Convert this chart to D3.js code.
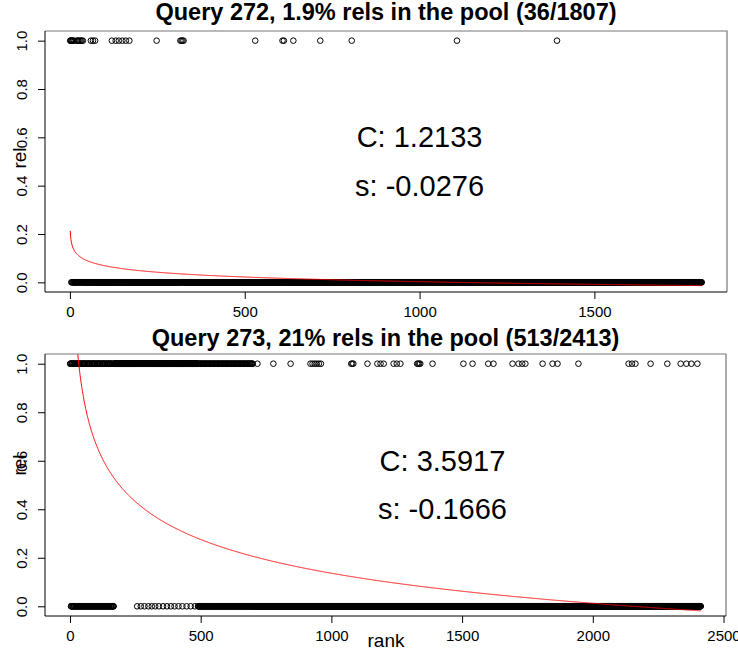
<!DOCTYPE html>
<meta charset="utf-8">
<style>
body { margin: 0; background: #fff; }
svg { font-family: "Liberation Sans", Arial, Helvetica, sans-serif; }
.tick line { stroke: #000; }
.tick text { font-size: 15px; fill: #000; }
</style>
<body>
<svg width="738" height="653"></svg>
<script src="https://cdnjs.cloudflare.com/ajax/libs/d3/7.8.5/d3.min.js"></script>
<script>
// one entry per query / panel
var queries = [272, 273];
var poolSizes = [1807, 2413];
var relPercent = ["1.9%", "21%"];
var fitC = [1.2133, 3.5917];
var fitS = [-0.0276, -0.1666];
var labelRank = [1000, 1425];   // where the C / s text sits along the rank axis

var xTicks = [[0, 500, 1000, 1500], [0, 500, 1000, 1500, 2000, 2500]];
var yTicks = [0, 0.2, 0.4, 0.6, 0.8, 1.0];

// relevant ranks, query 272
var rel272 = [1, 2, 3, 5, 7, 9, 12, 20, 22, 25, 28, 31, 34, 37, 60, 66, 72,
    120, 131, 140, 150, 160, 170, 248, 316, 319, 322, 325, 530, 608, 612, 639,
    716, 806, 1107, 1393];

// relevant ranks, query 273: runs of consecutive ranks at the top of the list...
var rel273Runs = [[1,3],[7,9],[13,15],[19,21],[26,28],[32,34],[38,40],[45,47],[51,53],
    [57,59],[64,66],[70,72],[76,78],[83,85],[89,91],[95,97],[102,104],[108,110],
    [114,116],[121,123],[127,129],[133,135],[140,142],[146,148],[152,154],[159,161],
    [168,256],
    [258,270],[272,284],[286,299],[301,312],[314,325],[327,339],[341,355],[357,370],
    [372,385],[387,399],[401,414],[416,429],[431,445],[447,461],[463,477],[479,487],
    [488,489],[493,494],[498,499],[503,504],[508,509],[513,514],[518,519],[523,524],
    [528,529],[533,534],[538,539],[543,544],[548,549],[553,554],[558,559],[563,564],
    [568,569],[573,574],[578,579],[583,584],[588,589],[593,594],[598,599],[603,604],
    [608,609],[613,614],[618,619],[623,624],[628,629],[633,634],[638,639],[643,644],
    [648,649],[653,654],[658,659],[663,664],[668,669],[673,674],[678,679],[683,684],
    [688,689],[693,694],[698,699]];
// ...and the scattered ones further down
var rel273Tail = [717, 778, 844, 920, 928, 936, 944, 952, 960, 1076, 1080, 1084, 1138,
    1176, 1188, 1200, 1238, 1250, 1264, 1328, 1332, 1336, 1340, 1387, 1505, 1540,
    1600, 1620, 1693, 1716, 1730, 1742, 1808, 1846, 1865, 1945, 2137, 2150, 2163,
    2221, 2285, 2336, 2358, 2377, 2400];

var rel273 = [];
rel273Runs.forEach(function(r) { for (var k = r[0]; k <= r[1]; k++) rel273.push(k); });
rel273 = rel273.concat(rel273Tail);
var relRanks = [rel272, rel273];

var svg = d3.select("svg");

var boxes = [
    {left: 45, right: 727, top: 31, bottom: 292, titleY: 20, relY: 158},
    {left: 45, right: 726, top: 354, bottom: 616, titleY: 346, relY: 465}
];

function drawPanel(p) {
    var b = boxes[p],
        n = poolSizes[p],
        pad = 0.04 * (n - 1);

    var x = d3.scaleLinear().domain([1 - pad, n + pad]).range([b.left, b.right]);
    var y = d3.scaleLinear().domain([-0.04, 1.04]).range([b.bottom, b.top]);

    var relSet = new Set(relRanks[p]);
    var pts = d3.range(1, n + 1).map(function(r) { return {rank: r, rel: relSet.has(r) ? 1 : 0}; });

    var g = svg.append("g");

    g.append("clipPath").attr("id", "clip" + p)
      .append("rect")
        .attr("x", b.left).attr("y", b.top)
        .attr("width", b.right - b.left).attr("height", b.bottom - b.top);

    g.append("g").selectAll("circle")
        .data(pts)
      .enter().append("circle")
        .attr("cx", function(d) { return x(d.rank); })
        .attr("cy", function(d) { return y(d.rel); })
        .attr("r", 2.8)
        .style("fill", "none")
        .style("stroke", "#000")
        .style("stroke-width", 1);

    // fitted curve C * rank^s - 1
    var line = d3.line()
        .x(function(r) { return x(r); })
        .y(function(r) { return y(fitC[p] * Math.pow(r, fitS[p]) - 1); });

    g.append("path")
        .datum(d3.range(1, n + 1))
        .attr("clip-path", "url(#clip" + p + ")")
        .attr("d", line)
        .style("fill", "none")
        .style("stroke", "#ff0000")
        .style("stroke-width", 1);

    // box: top/right come out grey in the original
    g.append("path")
        .attr("d", "M" + b.left + "," + b.top + "H" + b.right + "V" + b.bottom)
        .style("fill", "none").style("stroke", "#777").style("stroke-width", 1.2);
    g.append("path")
        .attr("d", "M" + b.left + "," + b.top + "V" + b.bottom + "H" + b.right)
        .style("fill", "none").style("stroke", "#000").style("stroke-width", 1);

    var xt = xTicks[p];
    var xAxis = g.append("g")
        .attr("transform", "translate(0," + b.bottom + ")")
        .call(d3.axisBottom(x).tickValues(xt).tickSize(7).tickPadding(7).tickFormat(d3.format("d")));
    xAxis.select(".domain").remove();

    var yAxis = g.append("g")
        .attr("transform", "translate(" + b.left + ",0)")
        .call(d3.axisLeft(y).tickValues(yTicks).tickSize(7).tickFormat(d3.format(".1f")));
    yAxis.select(".domain").remove();
    yAxis.selectAll("text")
        .attr("x", 0).attr("dy", null)
        .attr("transform", "translate(-18,0) rotate(-90)")
        .style("text-anchor", "middle");

    g.append("text")
        .attr("x", (b.left + b.right) / 2)
        .attr("y", b.titleY)
        .style("text-anchor", "middle")
        .style("font-weight", "bold")
        .style("font-size", "23.5px")
        .text("Query " + queries[p] + ", " + relPercent[p] + " rels in the pool (" +
              relRanks[p].length + "/" + n + ")");

    g.append("text")
        .attr("transform", "translate(26," + b.relY + ") rotate(-90)")
        .style("text-anchor", "middle")
        .style("font-size", "19px")
        .text("rel");

    g.append("text")
        .attr("x", x(labelRank[p])).attr("y", y(0.6)).attr("dy", "0.35em")
        .style("text-anchor", "middle").style("font-size", "29px")
        .text("C: " + fitC[p].toFixed(4));
    g.append("text")
        .attr("x", x(labelRank[p])).attr("y", y(0.4)).attr("dy", "0.35em")
        .style("text-anchor", "middle").style("font-size", "29px")
        .text("s: " + fitS[p].toFixed(4));

    return g;
}

drawPanel(0);
drawPanel(1);

svg.append("text")
    .attr("x", 386).attr("y", 647)
    .style("text-anchor", "middle")
    .style("font-size", "19px")
    .text("rank");
</script>
</body>
